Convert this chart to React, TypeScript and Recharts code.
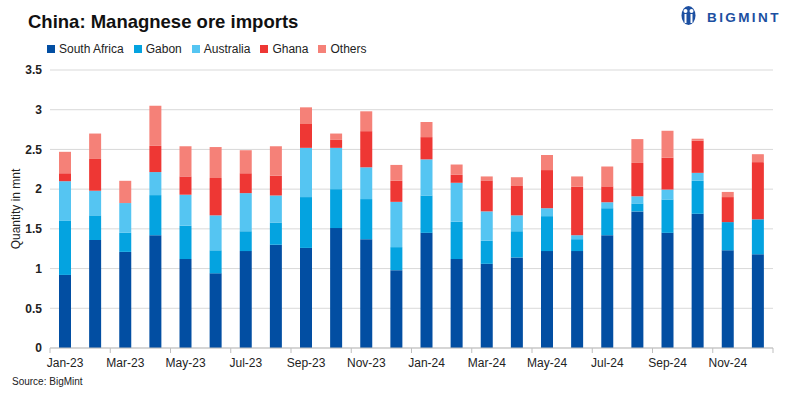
import { BarChart, Bar, XAxis, YAxis, CartesianGrid } from 'recharts';

const months = [
  'Jan-23', 'Feb-23', 'Mar-23', 'Apr-23', 'May-23', 'Jun-23', 'Jul-23', 'Aug-23', 'Sep-23', 'Oct-23', 'Nov-23', 'Dec-23',
  'Jan-24', 'Feb-24', 'Mar-24', 'Apr-24', 'May-24', 'Jun-24', 'Jul-24', 'Aug-24', 'Sep-24', 'Oct-24', 'Nov-24', 'Dec-24',
];
const southAfrica = [0.92, 1.36, 1.21, 1.42, 1.12, 0.94, 1.22, 1.3, 1.26, 1.51, 1.37, 0.98, 1.45, 1.12, 1.06, 1.14, 1.22, 1.22, 1.42, 1.72, 1.45, 1.69, 1.23, 1.18];
const gabon = [0.68, 0.31, 0.24, 0.505, 0.42, 0.29, 0.25, 0.28, 0.64, 0.49, 0.505, 0.29, 0.47, 0.47, 0.29, 0.33, 0.44, 0.15, 0.34, 0.1, 0.42, 0.415, 0.355, 0.44];
const australia = [0.5, 0.31, 0.375, 0.29, 0.39, 0.44, 0.48, 0.34, 0.62, 0.52, 0.4, 0.57, 0.455, 0.49, 0.37, 0.2, 0.1, 0.05, 0.075, 0.09, 0.125, 0.1, 0, 0];
const ghana = [0.1, 0.4, 0, 0.33, 0.23, 0.47, 0.25, 0.25, 0.3, 0.1, 0.455, 0.265, 0.28, 0.1, 0.39, 0.37, 0.48, 0.61, 0.2, 0.42, 0.4, 0.405, 0.315, 0.72];
const others = [0.27, 0.32, 0.28, 0.505, 0.38, 0.39, 0.29, 0.37, 0.21, 0.08, 0.25, 0.2, 0.19, 0.13, 0.05, 0.11, 0.19, 0.13, 0.25, 0.3, 0.34, 0.025, 0.065, 0.1];
const yTicks = [0, 0.5, 1, 1.5, 2, 2.5, 3, 3.5];

const series = [
  { key: 'South Africa', color: '#024EA2' },
  { key: 'Gabon', color: '#04A3E0' },
  { key: 'Australia', color: '#55C5F2' },
  { key: 'Ghana', color: '#EE3734' },
  { key: 'Others', color: '#F58178' },
];

const data = months.map((m, i) => ({
  month: m,
  'South Africa': southAfrica[i],
  Gabon: gabon[i],
  Australia: australia[i],
  Ghana: ghana[i],
  Others: others[i],
}));

const font = '"Liberation Sans", Arial, sans-serif';
const W = 788;
const H = 399;
const plotLeft = 50;
const plotRight = 773;
const band = (plotRight - plotLeft) / months.length;

function MonthTick(props: any) {
  const { x, payload } = props;
  const i = payload.index;
  const axisY = 348;
  return (
    <g>
      {i % 2 === 0 && (
        <>
          <line x1={x - band / 2} x2={x - band / 2} y1={axisY} y2={axisY + 5} stroke="#bfbfbf" />
          <text x={x} y={367} textAnchor="middle" fontSize={12} fill="#222" fontFamily={font}>
            {payload.value}
          </text>
        </>
      )}
      {i === months.length - 1 && (
        <line x1={x + band / 2} x2={x + band / 2} y1={axisY} y2={axisY + 5} stroke="#bfbfbf" />
      )}
    </g>
  );
}

function Logo() {
  return (
    <svg width={112} height={30} style={{ position: 'absolute', left: 676, top: 2 }}>
      <ellipse cx={12.5} cy={13.5} rx={7} ry={9.5} fill="#1C4FA1" />
      <circle cx={9.5} cy={9} r={2} fill="#fff" />
      <circle cx={15.5} cy={9} r={2} fill="#fff" />
      <rect x={8.5} y={12} width={2} height={9} fill="#fff" />
      <rect x={14.5} y={12} width={2} height={9} fill="#fff" />
      <text x={31} y={20} fontSize={13.5} fontWeight="bold" fill="#1C4FA1" letterSpacing={2.4} fontFamily={font}>
        BIGMINT
      </text>
    </svg>
  );
}

export default function App() {
  return (
    <div style={{ position: 'absolute', left: 0, top: 0, width: W, height: H, background: '#fff', fontFamily: font }}>
      <div style={{ position: 'absolute', left: 28, top: 11, fontSize: 18.5, fontWeight: 'bold', color: '#111' }}>
        China: Managnese ore imports
      </div>
      <div style={{ position: 'absolute', left: 47, top: 42, display: 'flex', fontSize: 12, color: '#222' }}>
        {series.map((s) => (
          <div key={s.key} style={{ display: 'flex', alignItems: 'center', marginRight: 10 }}>
            <span style={{ width: 8, height: 8, background: s.color, marginRight: 4, display: 'inline-block' }} />
            {s.key}
          </div>
        ))}
      </div>
      <Logo />
      <BarChart width={W} height={H} data={data} margin={{ top: 70, right: W - plotRight, bottom: 21, left: 10 }}>
        <CartesianGrid vertical={false} stroke="#d9d9d9" />
        <XAxis
          dataKey="month"
          interval={0}
          tickLine={false}
          axisLine={{ stroke: '#bfbfbf' }}
          tick={<MonthTick />}
          height={30}
        />
        <YAxis
          domain={[0, 3.5]}
          ticks={yTicks}
          width={40}
          axisLine={false}
          tickLine={false}
          tickSize={6}
          tickMargin={2}
          tick={{ fontSize: 12, fontWeight: 'bold', fill: '#222', fontFamily: font }}
          label={{ value: 'Quantity in mnt', angle: -90, position: 'insideLeft', offset: 6, style: { fontSize: 12, fill: '#222', fontFamily: font, textAnchor: 'middle' } }}
        />
        {series.map((s) => (
          <Bar key={s.key} dataKey={s.key} stackId="a" fill={s.color} barSize={12} isAnimationActive={false} />
        ))}
      </BarChart>
      <div style={{ position: 'absolute', left: 12, top: 376, fontSize: 10, color: '#222' }}>Source: BigMint</div>
    </div>
  );
}
